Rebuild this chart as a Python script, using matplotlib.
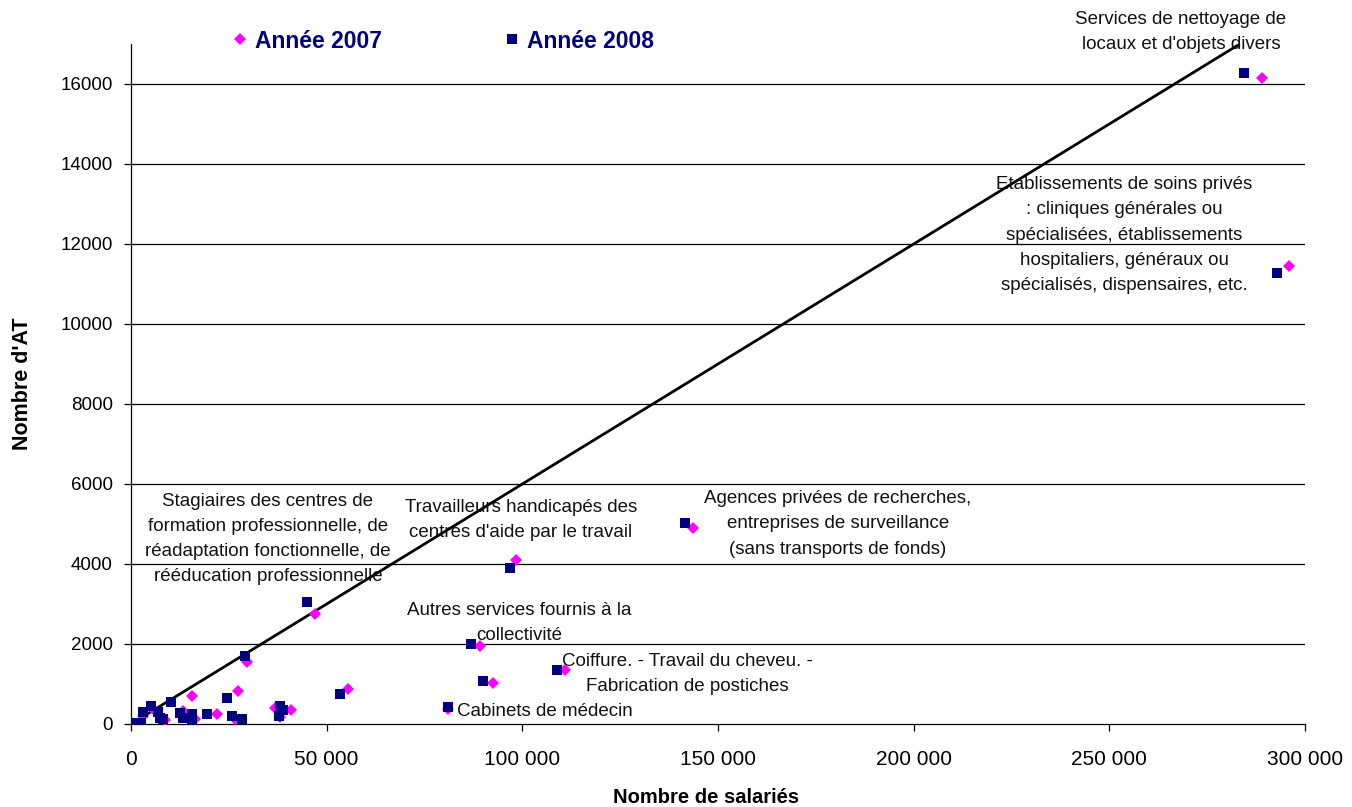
import matplotlib
matplotlib.use("Agg")
import matplotlib.pyplot as plt
from matplotlib.lines import Line2D

plt.rcParams['font.family'] = ['Liberation Sans', 'DejaVu Sans']

# ---- data ----
x_2007 = [300, 3000, 5600, 8600, 13400, 16300, 15500, 21900, 26600, 27400, 29600,
          36800, 40800, 38000, 47100, 55500, 81100, 89200, 92600, 98400, 110900,
          143600, 289000, 296000]
y_2007 = [20, 200, 380, 90, 320, 120, 700, 250, 120, 820, 1540,
          400, 340, 180, 2740, 880, 380, 1940, 1030, 4100, 1340,
          4900, 16150, 11460]

x_2008 = [170, 2500, 3150, 5000, 7000, 7400, 8100, 10200, 12400, 13200, 15700, 15500,
          19500, 24600, 25800, 28400, 29100, 38200, 38900, 37900, 45000, 53500,
          80900, 87000, 90000, 96900, 108900, 141600, 284300, 292800]
y_2008 = [30, 20, 300, 440, 300, 140, 120, 540, 280, 160, 240, 90,
          250, 650, 200, 120, 1700, 440, 360, 200, 3040, 760,
          430, 2000, 1080, 3900, 1340, 5020, 16280, 11280]

trend_slope = 0.06
trend_x = [0, 17000 / 0.06]

x_ticks = [0, 50000, 100000, 150000, 200000, 250000, 300000]
x_tick_labels = ['0', '50 000', '100 000', '150 000', '200 000', '250 000', '300 000']
y_ticks = [0, 2000, 4000, 6000, 8000, 10000, 12000, 14000, 16000]
y_tick_labels = ['0', '2000', '4000', '6000', '8000', '10000', '12000', '14000', '16000']

series_labels = ['Année 2007', 'Année 2008']

annotations = [
    ("Services de nettoyage de\nlocaux et d'objets divers", 1181, 32),
    ("Etablissements de soins privés\n: cliniques générales ou\nspécialisées, établissements\nhospitaliers, généraux ou\nspécialisés, dispensaires, etc.", 1124, 235),
    ("Stagiaires des centres de\nformation professionnelle, de\nréadaptation fonctionnelle, de\nrééducation professionnelle", 268, 539),
    ("Travailleurs handicapés des\ncentres d'aide par le travail", 521, 520),
    ("Agences privées de recherches,\nentreprises de surveillance\n(sans transports de fonds)", 838, 524),
    ("Autres services fournis à la\ncollectivité", 519, 623),
    ("Coiffure. - Travail du cheveu. -\nFabrication de postiches", 687, 674),
    ("Cabinets de médecin", 545, 711),
]

W, H = 1352, 807
fig = plt.figure(figsize=(W / 100, H / 100), dpi=100)
ax = fig.add_axes([131 / W, 1 - 724 / H, (1305 - 131) / W, (724 - 44) / H])

ax.set_xlim(0, 300000)
ax.set_ylim(0, 17000)

for y in y_ticks[1:]:
    ax.axhline(y, color='#000000', lw=0.9, zorder=0)

ax.plot(trend_x, [trend_slope * v for v in trend_x], color='black', lw=2.0, zorder=2,
        solid_capstyle='butt')

ax.plot(x_2007, y_2007, linestyle='none', marker='D', markersize=6, color='#FF00FF',
        markeredgewidth=0, zorder=3)
ax.plot(x_2008, y_2008, linestyle='none', marker='s', markersize=6.5, color='#000080',
        markeredgewidth=0, zorder=4)

ax.set_xticks(x_ticks)
ax.set_xticklabels(x_tick_labels, fontsize=15)
ax.set_yticks(y_ticks)
ax.set_yticklabels(y_tick_labels, fontsize=13.5)
ax.tick_params(axis='both', direction='out', length=5, width=0.9, color='black', pad=8)
ax.tick_params(axis='x', pad=14)

for s in ['top', 'right']:
    ax.spines[s].set_visible(False)
ax.spines['left'].set_linewidth(0.9)
ax.spines['bottom'].set_linewidth(0.9)

ax.set_xlabel('Nombre de salariés', fontsize=14.5, fontweight='bold')
ax.set_ylabel("Nombre d'AT", fontsize=15.5, fontweight='bold')
ax.xaxis.set_label_coords((706 - 131) / 1174, (724 - 788) / 680)
ax.yaxis.set_label_coords((33 - 131) / 1174, 0.5)

for txt, px, py in annotations:
    fig.text(px / W, 1 - py / H, txt, ha='center', va='center', fontsize=13.5,
             color='#111111', linespacing=1.64)

handles = [Line2D([], [], linestyle='none', marker='D', markersize=6, color='#FF00FF', markeredgewidth=0),
           Line2D([], [], linestyle='none', marker='s', markersize=6.5, color='#000080', markeredgewidth=0)]
leg = fig.legend(handles, series_labels, loc='center left', bbox_to_anchor=(233 / W, 1 - 41 / H),
                 ncol=2, frameon=False, handlelength=0.6, handletextpad=0.35, columnspacing=5.4,
                 prop={'size': 16.5, 'weight': 'bold'}, borderpad=0, borderaxespad=0)
for t in leg.get_texts():
    t.set_color('#000080')

fig.savefig('out.png', dpi=100)
